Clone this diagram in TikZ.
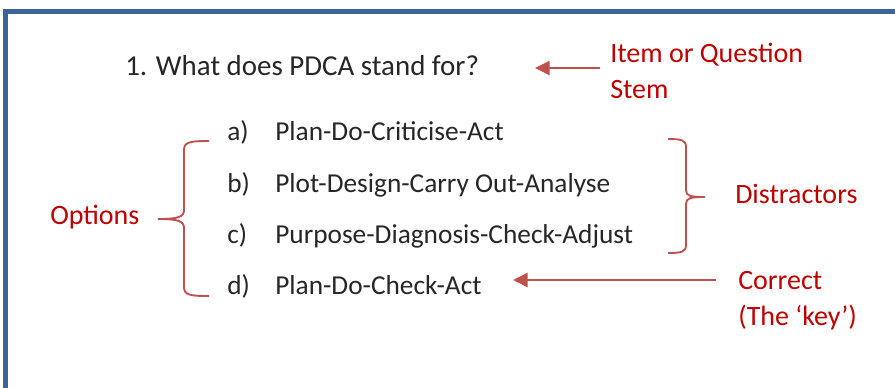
\documentclass[tikz,border=0pt]{standalone}
\usepackage{fontspec}
\setmainfont{Carlito}
\usepackage{tikz}
\usetikzlibrary{arrows.meta}
\definecolor{framblue}{HTML}{3C6496}
\definecolor{labred}{HTML}{C00000}
\definecolor{linered}{HTML}{C0504D}
\definecolor{txtgray}{HTML}{262626}

\begin{document}
\begin{tikzpicture}[x=0.75pt,y=-0.75pt,
  txt/.style={anchor=base west, inner sep=0pt, text=txtgray, font=\fontsize{20.5}{25}\selectfont},
  lab/.style={anchor=base west, inner sep=0pt, text=labred, font=\fontsize{21}{27}\selectfont, align=left},
  arr/.style={draw=linered, line width=1.9pt, -{Triangle[length=11pt,width=10.5pt]}},
  brc/.style={draw=linered, line width=1.4pt}]
\useasboundingbox (0,0) rectangle (895,387);
\draw[framblue, line width=3.5pt] (5.75,400) -- (5.75,11.7) -- (900,11.7);
\node [txt, font=\fontsize{21.7}{26}\selectfont] (Q) at (125,75) {1. What does PDCA stand for?};
\node [txt] (LA) at (227,140) {a)};
\node [txt] (TA) at (275,140) {Plan-Do-Criticise-Act};
\node [txt] (LB) at (227,192) {b)};
\node [txt] (TB) at (275,192) {Plot-Design-Carry Out-Analyse};
\node [txt] (LC) at (227,243) {c)};
\node [txt] (TC) at (275,243) {Purpose-Diagnosis-Check-Adjust};
\node [txt] (LD) at (227,294) {d)};
\node [txt] (TD) at (275,294) {Plan-Do-Check-Act};
\node [lab] (Stem) at (610,98) {Item or Question\\Stem};
\node [lab] (Opt) at (50,224) {Options};
\node [lab] (Dis) at (735,203) {Distractors};
\node [lab] (Key) at (738,325) {Correct\\(The ‘key’)};
\coordinate (StemEnd) at (600,68);
\coordinate (StemTip) at (535,68);
\coordinate (KeyEnd) at (716,280);
\coordinate (KeyTip) at (513,280);
\draw[arr] (StemEnd) to (StemTip);
\draw[arr] (KeyEnd) to (KeyTip);
% braces
\draw[brc] (209,141) .. controls (190,141) and (184,142) .. (184,150) -- (184,210)
  .. controls (184,217) and (178,219) .. (158,219)
  .. controls (178,219) and (184,221) .. (184,228) -- (184,287)
  .. controls (184,295) and (190,296) .. (209,296);
\draw[brc] (668,139) .. controls (681,139) and (686,140) .. (686,147) -- (686,190)
  .. controls (686,196) and (690,197) .. (705,197)
  .. controls (690,197) and (686,198) .. (686,204) -- (686,245)
  .. controls (686,252) and (681,253) .. (668,253);
\end{tikzpicture}
\end{document}
